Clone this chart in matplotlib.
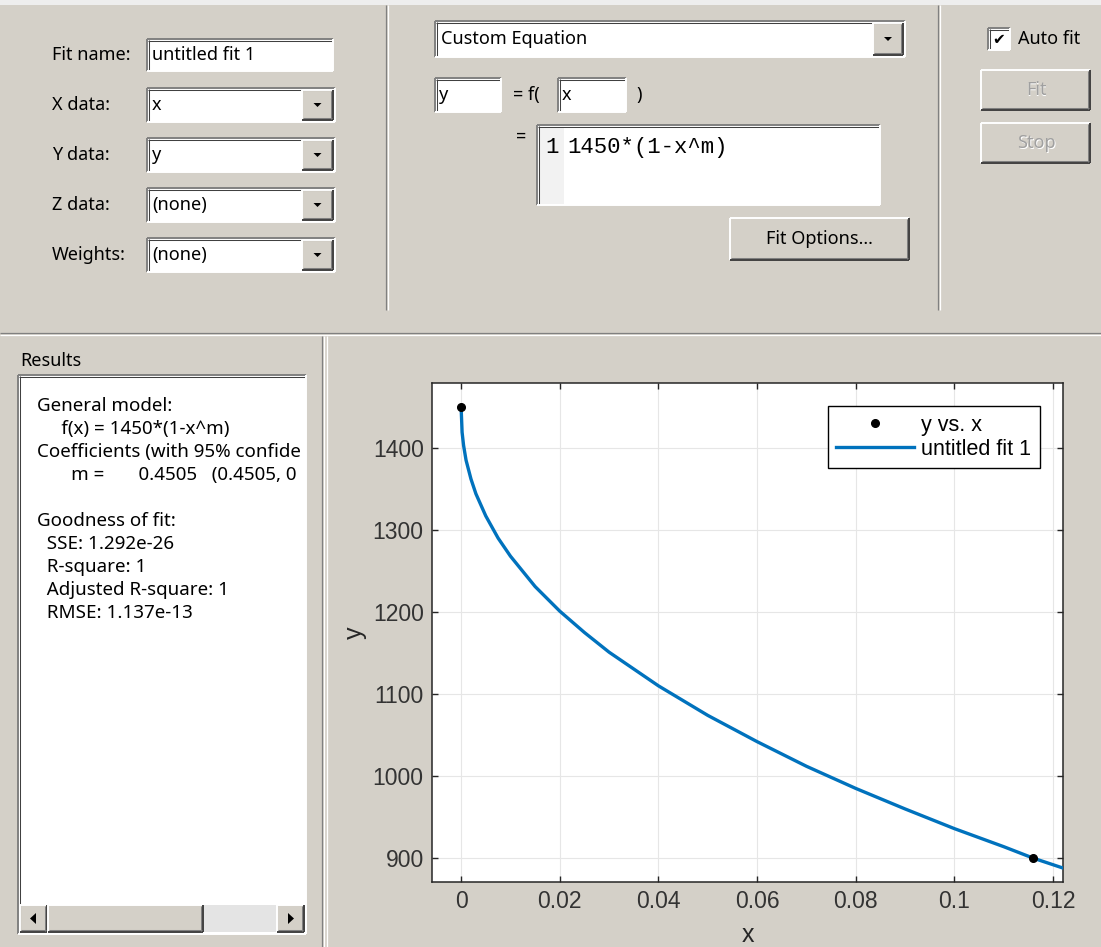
import matplotlib
matplotlib.use("Agg")
import matplotlib.pyplot as plt
from matplotlib.patches import Rectangle, Polygon
from matplotlib.lines import Line2D

# data points (y vs. x)
data_x = [0.0, 0.116]
data_y = [1450, 900]

# fitted curve
fit_x = [0.0, 0.0002, 0.0005, 0.001, 0.002, 0.003, 0.005, 0.0075, 0.01, 0.015,
         0.02, 0.025, 0.03, 0.04, 0.05, 0.06, 0.07, 0.08, 0.09, 0.10, 0.11, 0.116, 0.1225]
fit_y = [1450, 1419, 1403, 1385, 1362, 1344, 1317, 1290, 1268, 1231,
         1201, 1175, 1151, 1110, 1074, 1042, 1012, 985, 960, 936, 914, 900, 887]

x_ticks = [0, 0.02, 0.04, 0.06, 0.08, 0.1, 0.12]
x_tick_labels = ["0", "0.02", "0.04", "0.06", "0.08", "0.1", "0.12"]
y_ticks = [900, 1000, 1100, 1200, 1300, 1400]

# results text as visible in the (horizontally scrolled) box
results_lines = [
    "General model:",
    "     f(x) = 1450*(1-x^m)",
    "Coefficients (with 95% confide",
    "       m =       0.4505   (0.4505, 0",
    "",
    "Goodness of fit:",
    "  SSE: 1.292e-26",
    "  R-square: 1",
    "  Adjusted R-square: 1",
    "  RMSE: 1.137e-13",
]

field_labels = ["Fit name:", "X data:", "Y data:", "Z data:", "Weights:"]
field_values = ["untitled fit 1", "x", "y", "(none)", "(none)"]

W, H = 1101, 947
BG = "#d4d0c8"
GUI_FONT = "Noto Sans"
PLOT_FONT = "Liberation Sans"

fig = plt.figure(figsize=(W / 100, H / 100), dpi=100, facecolor=BG)


def fx(x):
    return x / W


def fy(y):
    return 1 - y / H


def rect(x0, y0, x1, y1, fc, ec="none", lw=0, zorder=1):
    r = Rectangle((fx(x0), fy(y1)), (x1 - x0) / W, (y1 - y0) / H,
                  transform=fig.transFigure, fc=fc, ec=ec, lw=lw, zorder=zorder)
    fig.add_artist(r)
    return r


def line(xs, ys, color, lw=0.75, zorder=2):
    fig.add_artist(Line2D([fx(v) for v in xs], [fy(v) for v in ys],
                          transform=fig.transFigure, color=color, lw=lw,
                          zorder=zorder, solid_capstyle="butt"))


def text(x, y, s, size=13, color="#000000", ha="left", family=GUI_FONT, **kw):
    return fig.text(fx(x), fy(y), s, fontsize=size, color=color, ha=ha,
                    va="center", family=family, zorder=5, **kw)


def sunken(x0, y0, x1, y1):
    r = rect(x0, y0, x1, y1, "white")
    line([x0, x1], [y0, y0], "#808080", 1.4)
    line([x0, x0], [y0, y1], "#808080", 1.4)
    line([x0 + 1, x1 - 1], [y0 + 2, y0 + 2], "#404040", 0.75)
    line([x0 + 2, x0 + 2], [y0 + 1, y1 - 1], "#404040", 0.75)
    line([x0, x1], [y1, y1], "#ffffff", 1.4)
    line([x1, x1], [y0, y1], "#ffffff", 1.4)
    return r


def raised(x0, y0, x1, y1, face=BG):
    rect(x0, y0, x1, y1, face)
    line([x0, x1], [y0, y0], "#ffffff", 1.4)
    line([x0, x0], [y0, y1], "#ffffff", 1.4)
    line([x0, x1], [y1, y1], "#404040", 1.4)
    line([x1, x1], [y0, y1], "#404040", 1.4)
    line([x0 + 1, x1 - 1], [y1 - 2, y1 - 2], "#808080", 0.75)
    line([x1 - 2, x1 - 2], [y0 + 1, y1 - 1], "#808080", 0.75)


def triangle(pts):
    fig.add_artist(Polygon([(fx(a), fy(b)) for a, b in pts], closed=True,
                           transform=fig.transFigure, fc="black", ec="none", zorder=3))


def arrow_button(x0, y0, x1, y1):
    raised(x0, y0, x1, y1)
    cx, cy = (x0 + x1) / 2, (y0 + y1) / 2
    triangle([(cx - 4, cy - 2), (cx + 4, cy - 2), (cx, cy + 2)])


# thin light strip at the very top of the window
rect(0, 0, W, 5, "#eeeeee")

# --- top panel -------------------------------------------------------------
row_y = [55, 105, 155, 205, 255]
for i, (lab, val) in enumerate(zip(field_labels, field_values)):
    cy = row_y[i]
    text(52, cy, lab)
    if i == 0:
        sunken(147, cy - 16, 333, cy + 16)
    else:
        sunken(147, cy - 17, 335, cy + 17)
        arrow_button(302, cy - 15, 333, cy + 15)
    text(152, cy, val)

# separators of the top panel
for sx in [386, 938]:
    line([sx, sx], [5, 310], "#808080", 0.9)
    line([sx + 1.5, sx + 1.5], [5, 310], "#ffffff", 0.9)

# custom equation combo
sunken(435, 21, 905, 57)
arrow_button(873, 23, 903, 55)
text(441, 39, "Custom Equation")

sunken(435, 78, 501, 112)
text(439, 95, "y")
text(513, 95, "= f(")
sunken(558, 78, 626, 112)
text(562, 95, "x")
text(636, 95, ")")

text(516, 137, "=")
sunken(537, 125, 880, 205)
rect(539, 127, 564, 204, "#f2f2f2")
text(545, 147, "1", size=16, family="Liberation Mono")
text(567, 147, "1450*(1-x^m)", size=16, family="Liberation Mono")

raised(730, 218, 909, 260)
text(819, 239, "Fit Options...", ha="center")

# auto fit / buttons
sunken(988, 28, 1010, 50)
text(999, 39.5, "\u2714", size=11, ha="center", family="DejaVu Sans")
text(1018, 39, "Auto fit")
raised(981, 70, 1090, 110)
text(1037, 91, "Fit", color="#ffffff", ha="center")
text(1036, 90, "Fit", color="#a0a0a0", ha="center")
raised(981, 123, 1090, 163)
text(1037, 144, "Stop", color="#ffffff", ha="center")
text(1036, 143, "Stop", color="#a0a0a0", ha="center")

# horizontal separator
line([0, W], [333, 333], "#808080", 0.9)
line([0, W], [335, 335], "#ffffff", 0.9)

# vertical separator between results and plot
line([322, 322], [336, H], "#808080", 0.9)
line([324, 324], [336, H], "#ffffff", 0.9)
line([327, 327], [336, H], "#ffffff", 0.9)

# --- results panel ---------------------------------------------------------
text(20, 361, "Results")
box = sunken(18, 375, 306, 934)
for k, s in enumerate(results_lines):
    if s:
        t = text(37, 406 + k * 23, s, size=13.5)
        t.set_clip_path(box)

# horizontal scrollbar
rect(20, 905, 304, 932, "#eeeeee")
rect(204, 905, 277, 932, "#e4e4e4")
raised(20, 905, 47, 932)
raised(48, 905, 203, 932)
raised(277, 905, 304, 932)
triangle([(30, 918.5), (36, 913), (36, 924)])
triangle([(294, 918.5), (288, 913), (288, 924)])

# --- plot ------------------------------------------------------------------
ax = fig.add_axes([fx(432), fy(882), (1063 - 432) / W, (882 - 383) / H])
ax.set_facecolor("white")
ax.plot(data_x, data_y, "o", color="black", ms=5.5, label="y vs. x", zorder=4)
ax.plot(fit_x, fit_y, color="#0072BD", lw=2.4, label="untitled fit 1", zorder=3)
ax.set_xlim(-0.0059, 0.1220)
ax.set_ylim(871, 1479)
ax.set_xticks(x_ticks)
ax.set_xticklabels(x_tick_labels)
ax.set_yticks(y_ticks)
ax.grid(True, color="#e6e6e6", lw=0.8)
ax.set_axisbelow(True)
ax.tick_params(direction="in", length=4.5, width=1, colors="#262626", labelsize=16.5,
               top=True, right=True, pad=6)
for lab in ax.get_xticklabels() + ax.get_yticklabels():
    lab.set_fontfamily(PLOT_FONT)
    lab.set_color("#333333")
for sp in ax.spines.values():
    sp.set_color("#262626")
    sp.set_linewidth(1.1)
ax.set_xlabel("x", fontsize=18, family=PLOT_FONT, color="#262626", labelpad=7)
ax.set_ylabel("y", fontsize=18, family=PLOT_FONT, color="#262626", labelpad=4)

leg = ax.legend(loc="upper right", bbox_to_anchor=(fx(1040), fy(406)),
                bbox_transform=fig.transFigure, borderaxespad=0, fancybox=False,
                edgecolor="black", framealpha=1, handlelength=3.6,
                prop={"family": PLOT_FONT, "size": 15.5},
                borderpad=0.4, labelspacing=0.15, handletextpad=0.35)
leg.get_frame().set_linewidth(1.0)

fig.savefig("out.png", dpi=100, facecolor=BG)
